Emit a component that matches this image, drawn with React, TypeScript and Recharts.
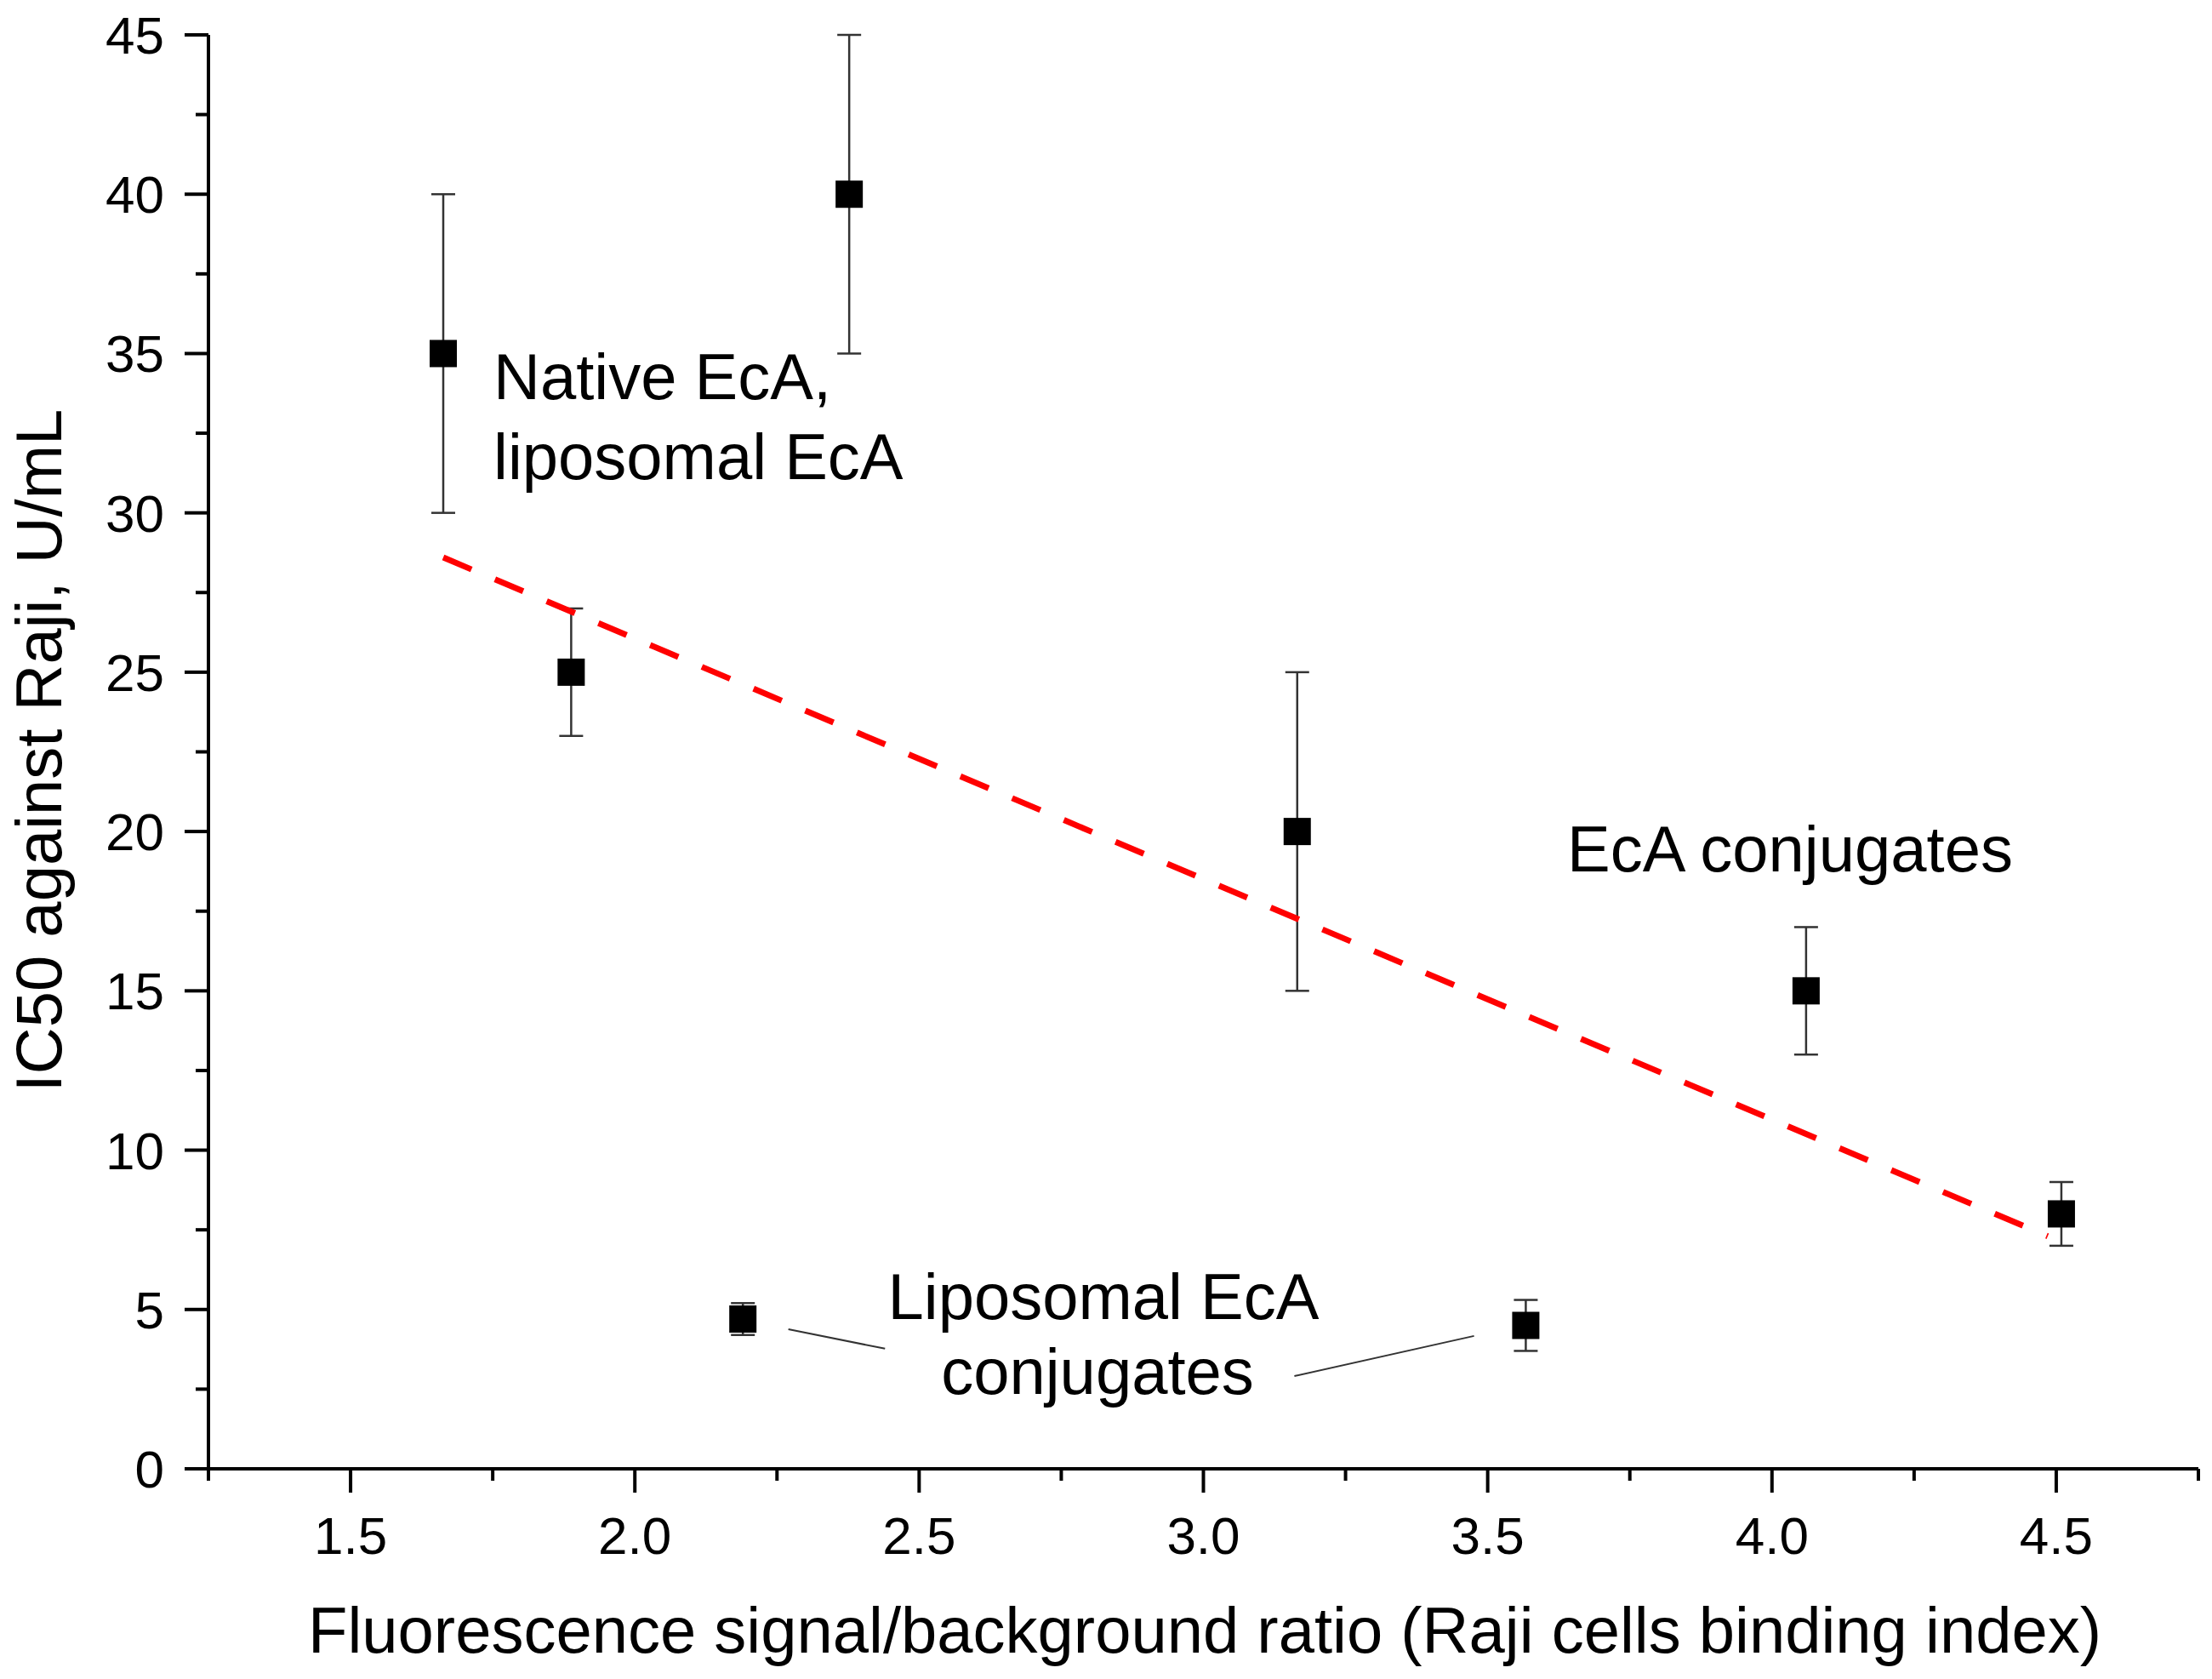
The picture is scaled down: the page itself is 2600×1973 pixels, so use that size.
import React from 'react'
import { ScatterChart, Scatter, XAxis, YAxis, ErrorBar, ReferenceLine } from 'recharts'

const FONT = "Arial, 'Liberation Sans', sans-serif"

// binding index (x) and IC50 against Raji (y) for each preparation
const bindingIndex = [1.663, 2.377, 1.888, 3.165, 4.06, 4.509, 2.19, 3.567]
const ic50 = [35, 40, 25, 20, 15, 8, 4.7, 4.5]
const ic50Low = [30, 35, 23, 15, 13, 7, 4.2, 3.7]
const ic50High = [40, 45, 27, 25, 17, 9, 5.2, 5.3]

// red dashed trend line
const trendX = [1.663, 4.485]
const trendY = [28.6, 7.3]

// thin leader lines from the "Liposomal EcA conjugates" note
const leaderX = [[2.27, 2.44], [3.16, 3.476]]
const leaderY = [[4.38, 3.77], [2.91, 4.17]]

const xTicks = [1.25, 1.5, 1.75, 2.0, 2.25, 2.5, 2.75, 3.0, 3.25, 3.5, 3.75, 4.0, 4.25, 4.5, 4.75]
const yTicks = [0, 2.5, 5, 7.5, 10, 12.5, 15, 17.5, 20, 22.5, 25, 27.5, 30, 32.5, 35, 37.5, 40, 42.5, 45]

const points = bindingIndex.map((x, i) => ({
  x,
  y: ic50[i],
  err: [ic50[i] - ic50Low[i], ic50High[i] - ic50[i]],
}))
const trend = trendX.map((x, i) => ({ x, y: trendY[i] }))

function XTick({ x, y, payload }: any) {
  const v = payload.value
  const major = Math.abs(v * 2 - Math.round(v * 2)) < 1e-6
  return (
    <g>
      <line x1={x} x2={x} y1={y} y2={y + (major ? 28 : 14)} stroke="#000" strokeWidth={4} />
      {major && (
        <text x={x} y={y + 100} textAnchor="middle" fontSize={62} fontFamily={FONT} fill="#000">
          {v.toFixed(1)}
        </text>
      )}
    </g>
  )
}

function YTick({ x, y, payload }: any) {
  const v = payload.value
  const major = v % 5 === 0
  return (
    <g>
      <line x1={x} x2={x - (major ? 28 : 15)} y1={y} y2={y} stroke="#000" strokeWidth={4} />
      {major && (
        <text x={x - 52} y={y + 22} textAnchor="end" fontSize={62} fontFamily={FONT} fill="#000">
          {v}
        </text>
      )}
    </g>
  )
}

const SquareMarker = ({ cx, cy }: any) => (
  <rect x={cx - 16} y={cy - 16} width={32} height={32} fill="#000" />
)

export default function App() {
  return (
    <div style={{ position: 'absolute', left: 0, top: 0, width: 2600, height: 1973, background: '#fff' }}>
      <ScatterChart width={2600} height={1973} margin={{ top: 41, right: 16, bottom: 0, left: 0 }}>
        <XAxis
          type="number"
          dataKey="x"
          domain={[1.25, 4.75]}
          ticks={xTicks}
          interval={0}
          height={247}
          tickSize={0}
          tickMargin={0}
          tickLine={false}
          axisLine={{ stroke: '#000', strokeWidth: 4 }}
          tick={<XTick />}
          allowDataOverflow
        />
        <YAxis
          type="number"
          dataKey="y"
          domain={[0, 45]}
          ticks={yTicks}
          interval={0}
          width={245}
          tickSize={0}
          tickMargin={0}
          tickLine={false}
          axisLine={{ stroke: '#000', strokeWidth: 4 }}
          tick={<YTick />}
          allowDataOverflow
        />
        {leaderX.map((lx, i) => (
          <ReferenceLine
            key={i}
            segment={[{ x: lx[0], y: leaderY[i][0] }, { x: lx[1], y: leaderY[i][1] }]}
            stroke="#333"
            strokeWidth={2}
          />
        ))}
        <Scatter data={points} shape={<SquareMarker />} isAnimationActive={false}>
          <ErrorBar dataKey="err" direction="y" width={14} stroke="#333" strokeWidth={2.5} isAnimationActive={false} />
        </Scatter>
        <Scatter
          data={trend}
          shape={() => <g />}
          line={{ stroke: '#ff0000', strokeWidth: 7, strokeDasharray: '36 30' }}
          isAnimationActive={false}
        />
      </ScatterChart>
      <svg
        width={2600}
        height={1973}
        style={{ position: 'absolute', left: 0, top: 0, pointerEvents: 'none' }}
        fontFamily={FONT}
        fill="#000"
      >
        <text x={580} y={469} fontSize={76}>Native EcA,</text>
        <text x={580} y={563} fontSize={76}>liposomal EcA</text>
        <text x={1842} y={1024} fontSize={76}>EcA conjugates</text>
        <text x={1297} y={1550} fontSize={76} textAnchor="middle">Liposomal EcA</text>
        <text x={1290} y={1638} fontSize={76} textAnchor="middle">conjugates</text>
        <text x={1416} y={1942} fontSize={76} textAnchor="middle">
          Fluorescence signal/background ratio (Raji cells binding index)
        </text>
        <text x={72} y={882} fontSize={76} textAnchor="middle" transform="rotate(-90 72 882)">
          IC50 against Raji, U/mL
        </text>
      </svg>
    </div>
  )
}
